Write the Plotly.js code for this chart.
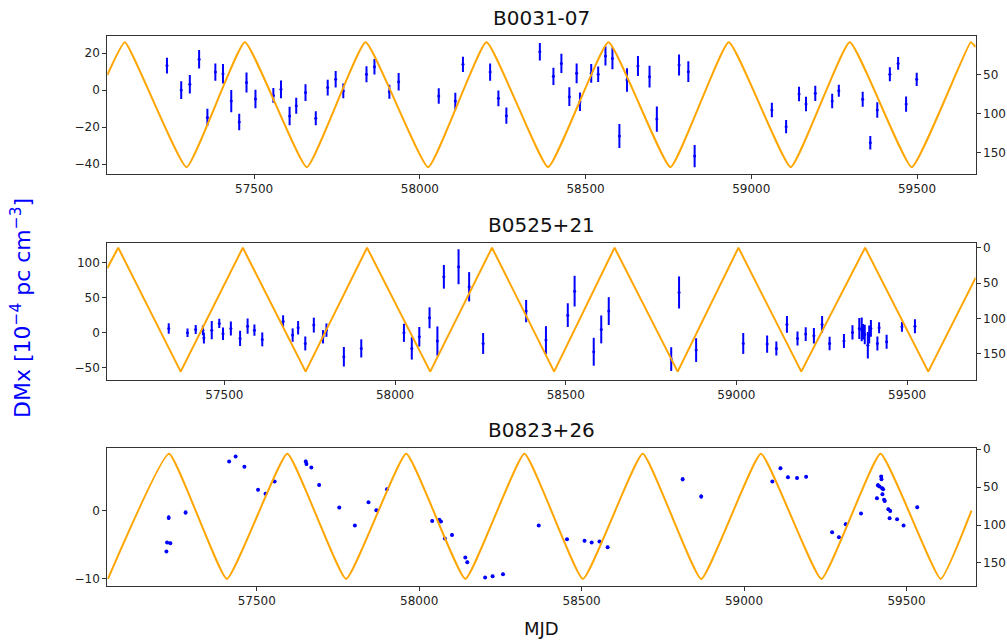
<!DOCTYPE html>
<html>
<head>
<meta charset="utf-8">
<script src="https://cdn.plot.ly/plotly-3.0.1.min.js"></script>
<style>html,body{margin:0;padding:0;background:#fff;}#chart{width:1007px;height:643px;}</style>
</head>
<body>
<div id="chart"></div>
<script>
// ---------- Panel titles & labels ----------
const panelTitles = ["B0031-07", "B0525+21", "B0823+26"];
const yLabel = "DMx [10<sup>−4</sup> pc cm<sup>−3</sup>]";
const xLabel = "MJD";

// ---------- B0031-07 ----------
const p1_mjd = [57237,57280,57306,57334,57359,57383,57406,57431,57455,57477,57504,57558,57581,57607,57627,57655,57686,57722,57746,57769,57839,57863,57908,57936,58057,58107,58130,58212,58237,58261,58362,58403,58427,58451,58473,58483,58517,58538,58560,58581,58602,58625,58658,58693,58715,58782,58810,58829,59062,59105,59144,59165,59193,59244,59264,59336,59359,59380,59418,59443,59467,59499];
const p1_dm  = [13.2,0.0,3.1,16.6,-14.8,9.7,8.8,-6.0,-17.3,4.1,-4.9,-2.9,0.4,-14.0,-8.5,-1.4,-15.3,1.3,5.8,-0.5,8.5,12.6,-0.9,4.5,-3.2,-6.0,13.9,9.7,-4.5,-13.9,20.7,7.4,14.4,-3.6,9.0,-6.3,9.0,8.5,18.4,17.1,-24.9,5.4,13.0,7.2,-15.7,13.5,9.9,-35.7,-10.8,-19.8,-2.2,-7.6,-1.8,-5.9,-0.4,-5.0,-28.5,-10.8,8.5,14.4,-7.6,5.8];
const p1_err = [4.3,4.8,5.0,5.0,4.7,4.7,5.3,6.0,4.5,5.4,5.0,4.0,4.8,5.0,4.3,4.5,3.8,4.2,4.5,4.0,4.3,4.2,3.8,4.7,4.2,4.5,4.1,4.7,4.3,4.4,4.7,4.7,5.2,5.1,5.4,5.0,5.1,4.2,5.2,5.9,6.5,6.3,5.4,5.9,6.8,5.7,5.6,6.0,3.9,3.6,3.9,3.9,4.1,3.9,3.3,4.0,3.6,4.2,3.8,3.4,4.1,3.6];
const p1_curve_mjd = [57057,57110,57296,57472,57659,57836,58025,58201,58387,58569,58756,58932,59119,59297,59484,59662,59677];
const p1_curve_deg = [51,9,169,9,169,9,169,9,169,9,169,9,169,9,169,9,15];

// ---------- B0525+21 ----------
const p2_mjd = [57337,57392,57416,57437,57440,57463,57485,57496,57519,57546,57568,57588,57611,57672,57700,57716,57737,57762,57789,57799,57850,57901,58026,58049,58071,58101,58124,58143,58186,58217,58258,58384,58442,58506,58526,58582,58604,58626,58809,58832,58882,59020,59090,59117,59148,59179,59203,59227,59251,59273,59315,59340,59360,59367,59371,59376,59385,59389,59394,59413,59418,59440,59485,59523];
const p2_dm  = [5.7,-0.5,4.3,3.0,-8.0,3.3,12.9,-1.9,5.7,-8.6,9.0,3.3,-10.0,16.2,-3.8,6.7,-15.8,10.5,-6.2,3.3,-34.9,-22.9,-0.5,-22.9,-6.2,21.0,-12.4,79.8,94.1,65.5,-15.8,30.6,-11.0,24.8,59.2,-27.7,4.3,30.6,-38.2,57.3,-25.3,-15.8,-16.7,-22.9,11.5,-8.6,-2.4,-4.8,11.5,-15.8,-12.4,0.0,5.7,4.3,1.0,-2.9,-18.2,-2.9,5.7,-15.8,6.7,-13.4,8.1,9.0];
const p2_err = [7.6,6.0,6.5,7.0,8.0,13,6.7,9,10,11,11,8,10,8.4,9.6,9.6,10,10.7,9.6,9.6,14,13,13,16,14,15,21,17,25,21,15,16,20,17,22,20,20,20,17,23,17,15,12.4,10,12,10,10,11,12,9.6,10,10.3,15,17,11,14,19,13,12,10,8,10,7,10];
const p2_curve_mjd = [57157,57189,57372,57554,57738,57918,58103,58284,58466,58643,58828,59006,59190,59377,59562,59701];
const p2_curve_deg = [29,0,175.5,0,175.5,0,175.5,0,175.5,0,175.5,0,175.5,0,175.5,42.5];

// ---------- B0823+26 ----------
const p3_mjd = [57222,57224,57234,57229,57281,57415,57435,57462,57504,57527,57555,57651,57653,57668,57692,57754,57802,57844,57868,57901,58040,58062,58067,58079,58101,58142,58148,58203,58226,58258,58368,58455,58509,58531,58555,58580,58811,58868,59087,59112,59135,59163,59191,59271,59292,59313,59360,59409,59412,59417,59422,59423,59425,59428,59426,59431,59433,59444,59450,59448,59471,59491,59533];
const p3_dm  = [-5.98,-4.66,-4.75,-1.0,-0.25,7.25,8.0,6.5,3.09,2.5,4.31,7.25,6.9,6.37,3.82,0.49,-2.16,1.27,0.1,3.19,-1.47,-1.32,-1.57,-4.07,-3.53,-6.86,-7.55,-9.8,-9.6,-9.3,-2.16,-4.17,-4.41,-4.66,-4.51,-5.34,4.66,2.11,4.31,6.27,4.95,4.85,5.0,-3.14,-3.87,-1.96,-0.39,1.86,3.77,3.58,5.05,4.66,3.33,3.19,2.45,1.62,1.47,0.25,0.0,-1.08,-1.23,-2.16,0.54];
const p3_err = [0.2,0.2,0.2,0.35,0.3,0.2,0.2,0.2,0.2,0.2,0.2,0.25,0.25,0.2,0.2,0.2,0.2,0.2,0.2,0.2,0.2,0.2,0.2,0.2,0.2,0.2,0.2,0.2,0.2,0.2,0.2,0.2,0.2,0.2,0.2,0.2,0.3,0.3,0.2,0.2,0.2,0.2,0.2,0.2,0.2,0.2,0.2,0.2,0.3,0.2,0.2,0.2,0.2,0.2,0.2,0.2,0.2,0.2,0.2,0.2,0.2,0.2,0.2];
const p3_curve_mjd = [57042,57230,57408,57594,57775,57960,58142,58324,58504,58688,58868,59052,59238,59420,59605,59700];
const p3_curve_deg = [171,6,171,6,171,6,171,6,171,6,171,6,171,6,171,81];

// ---------- Axis ranges ----------
const xRanges = [[57057,59677],[57157,59701],[57040,59713]];
const yLeftRanges = [[-45.4,29.2],[-68.2,127.8],[-11.0,9.2]];
const yRightRanges = [[177.8,0.9],[187.3,-6.2],[180,-1.3]];
const yLeftDtick = [20,50,10];

const W = 1007, H = 643;
const xd = [107.3/W, 975.7/W];
const yd = [[1-174/H, 1-36/H],[1-380/H, 1-243.3/H],[1-585.7/H, 1-448.3/H]];

const BLUE = '#0000ff', ORANGE = '#ffa500';

const panels = [
  {mjd:p1_mjd, dm:p1_dm, err:p1_err, cm:p1_curve_mjd, cd:p1_curve_deg, shape:'spline', ms:3},
  {mjd:p2_mjd, dm:p2_dm, err:p2_err, cm:p2_curve_mjd, cd:p2_curve_deg, shape:'linear', ms:3},
  {mjd:p3_mjd, dm:p3_dm, err:p3_err, cm:p3_curve_mjd, cd:p3_curve_deg, shape:'spline', ms:4}
];

const traces = [];
const layout = {
  width: W, height: H,
  margin: {l:0, r:0, t:0, b:0},
  paper_bgcolor: '#ffffff', plot_bgcolor: '#ffffff',
  showlegend: false,
  font: {family: 'DejaVu Sans, sans-serif', size: 12, color: '#222'},
  annotations: []
};

panels.forEach((p, i) => {
  const xa = i === 0 ? 'x' : 'x' + (i+1);
  const yl = 'y' + (i === 0 ? '' : (2*i+1));
  const yr = 'y' + (2*i+2);
  traces.push({
    type: 'scatter', mode: 'markers', x: p.mjd, y: p.dm, xaxis: xa, yaxis: yl,
    marker: {color: BLUE, size: p.ms},
    error_y: {type: 'data', array: p.err, visible: true, color: BLUE, thickness: 2, width: 0},
    hoverinfo: 'skip'
  });
  traces.push({
    type: 'scatter', mode: 'lines', x: p.cm, y: p.cd, xaxis: xa, yaxis: yr,
    line: {color: ORANGE, width: 2, shape: p.shape, smoothing: 0.35},
    hoverinfo: 'skip'
  });
  const xKey = i === 0 ? 'xaxis' : 'xaxis' + (i+1);
  const ylKey = i === 0 ? 'yaxis' : 'yaxis' + (2*i+1);
  const yrKey = 'yaxis' + (2*i+2);
  layout[xKey] = {
    domain: xd, anchor: yl, range: xRanges[i], dtick: 500, tick0: 0,
    ticks: 'outside', ticklen: 4, tickcolor: '#333', showline: true, mirror: true,
    linecolor: '#333', linewidth: 1, showgrid: false, zeroline: false,
    tickfont: {size: 12, color: '#222'}, tickformat: 'd'
  };
  layout[ylKey] = {
    domain: yd[i], anchor: xa, range: yLeftRanges[i], dtick: yLeftDtick[i],
    ticks: 'outside', ticklen: 4, tickcolor: '#333', showline: true, mirror: true,
    linecolor: '#333', linewidth: 1, showgrid: false, zeroline: false,
    tickfont: {size: 12, color: '#222'}
  };
  layout[yrKey] = {
    domain: yd[i], anchor: xa, overlaying: yl, side: 'right', range: yRightRanges[i],
    dtick: 50, ticks: 'outside', ticklen: 4, tickcolor: '#333', showline: false,
    showgrid: false, zeroline: false, tickfont: {size: 12, color: '#222'}
  };
  layout.annotations.push({
    text: panelTitles[i], xref: 'paper', yref: 'paper',
    x: (xd[0]+xd[1])/2, y: yd[i][1] + 18/H, xanchor: 'center', yanchor: 'middle',
    showarrow: false, font: {size: 20, color: '#111'}
  });
});

layout.annotations.push({
  text: yLabel, xref: 'paper', yref: 'paper', x: 21/W, y: 1-308/H,
  xanchor: 'center', yanchor: 'middle', textangle: -90, showarrow: false,
  font: {size: 22, color: BLUE}
});
layout.annotations.push({
  text: xLabel, xref: 'paper', yref: 'paper', x: 541/W, y: 1-628/H,
  xanchor: 'center', yanchor: 'middle', showarrow: false,
  font: {size: 18, color: '#111'}
});

Plotly.newPlot('chart', traces, layout, {staticPlot: true, displayModeBar: false});
</script>
</body>
</html>
